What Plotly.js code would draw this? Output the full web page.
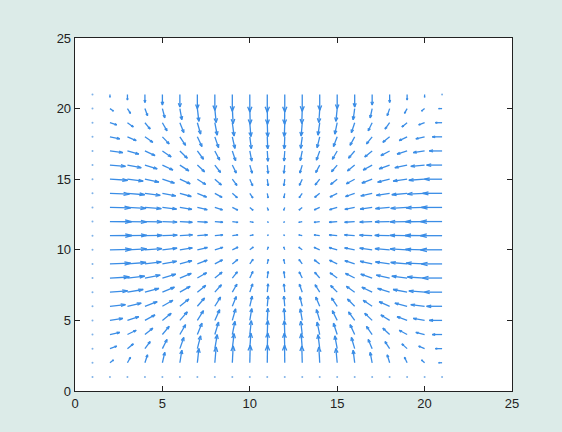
<!DOCTYPE html>
<html>
<head>
<meta charset="utf-8">
<script src="https://cdn.plot.ly/plotly-3.0.1.min.js"></script>
<style>
  html, body { margin: 0; padding: 0; background: #dcebe8; }
  #plot { width: 562px; height: 432px; }
</style>
</head>
<body>
<div id="plot"></div>
<script>
// Grid of arrow origins
const xGrid = [1,2,3,4,5,6,7,8,9,10,11,12,13,14,15,16,17,18,19,20,21];
const yGrid = [1,2,3,4,5,6,7,8,9,10,11,12,13,14,15,16,17,18,19,20,21];

// Horizontal components, one row per y (y = 1 .. 21), columns x = 1 .. 21
const U = [
  [0,0,0,0,0,0,0,0,0,0,0,0,0,0,0,0,0,0,0,0,0],
  [0,0.16,0.14,0.12,0.11,0.09,0.07,0.06,0.04,0.02,0.01,-0.01,-0.02,-0.04,-0.06,-0.07,-0.09,-0.11,-0.12,-0.14,-0.16],
  [0,0.31,0.27,0.24,0.21,0.18,0.15,0.11,0.08,0.05,0.02,-0.02,-0.05,-0.08,-0.11,-0.15,-0.18,-0.21,-0.24,-0.27,-0.31],
  [0,0.45,0.4,0.36,0.31,0.26,0.21,0.17,0.12,0.07,0.02,-0.02,-0.07,-0.12,-0.17,-0.21,-0.26,-0.31,-0.36,-0.4,-0.45],
  [0,0.59,0.52,0.46,0.4,0.34,0.28,0.22,0.15,0.09,0.03,-0.03,-0.09,-0.15,-0.22,-0.28,-0.34,-0.4,-0.46,-0.52,-0.59],
  [0,0.71,0.63,0.56,0.48,0.41,0.33,0.26,0.18,0.11,0.04,-0.04,-0.11,-0.18,-0.26,-0.33,-0.41,-0.48,-0.56,-0.63,-0.71],
  [0,0.81,0.72,0.64,0.55,0.47,0.38,0.3,0.21,0.13,0.04,-0.04,-0.13,-0.21,-0.3,-0.38,-0.47,-0.55,-0.64,-0.72,-0.81],
  [0,0.89,0.79,0.7,0.61,0.52,0.42,0.33,0.23,0.14,0.04,-0.04,-0.14,-0.23,-0.33,-0.42,-0.52,-0.61,-0.7,-0.79,-0.89],
  [0,0.95,0.85,0.75,0.65,0.55,0.45,0.35,0.25,0.15,0.05,-0.05,-0.15,-0.25,-0.35,-0.45,-0.55,-0.65,-0.75,-0.85,-0.95],
  [0,0.99,0.88,0.78,0.67,0.57,0.46,0.37,0.26,0.16,0.05,-0.05,-0.16,-0.26,-0.37,-0.46,-0.57,-0.67,-0.78,-0.88,-0.99],
  [0,1.0,0.89,0.79,0.68,0.58,0.47,0.37,0.26,0.16,0.05,-0.05,-0.16,-0.26,-0.37,-0.47,-0.58,-0.68,-0.79,-0.89,-1.0],
  [0,0.99,0.88,0.78,0.67,0.57,0.46,0.37,0.26,0.16,0.05,-0.05,-0.16,-0.26,-0.37,-0.46,-0.57,-0.67,-0.78,-0.88,-0.99],
  [0,0.95,0.85,0.75,0.65,0.55,0.45,0.35,0.25,0.15,0.05,-0.05,-0.15,-0.25,-0.35,-0.45,-0.55,-0.65,-0.75,-0.85,-0.95],
  [0,0.89,0.79,0.7,0.61,0.52,0.42,0.33,0.23,0.14,0.04,-0.04,-0.14,-0.23,-0.33,-0.42,-0.52,-0.61,-0.7,-0.79,-0.89],
  [0,0.81,0.72,0.64,0.55,0.47,0.38,0.3,0.21,0.13,0.04,-0.04,-0.13,-0.21,-0.3,-0.38,-0.47,-0.55,-0.64,-0.72,-0.81],
  [0,0.71,0.63,0.56,0.48,0.41,0.33,0.26,0.18,0.11,0.04,-0.04,-0.11,-0.18,-0.26,-0.33,-0.41,-0.48,-0.56,-0.63,-0.71],
  [0,0.59,0.52,0.46,0.4,0.34,0.28,0.22,0.15,0.09,0.03,-0.03,-0.09,-0.15,-0.22,-0.28,-0.34,-0.4,-0.46,-0.52,-0.59],
  [0,0.45,0.4,0.36,0.31,0.26,0.21,0.17,0.12,0.07,0.02,-0.02,-0.07,-0.12,-0.17,-0.21,-0.26,-0.31,-0.36,-0.4,-0.45],
  [0,0.31,0.27,0.24,0.21,0.18,0.15,0.11,0.08,0.05,0.02,-0.02,-0.05,-0.08,-0.11,-0.15,-0.18,-0.21,-0.24,-0.27,-0.31],
  [0,0.16,0.14,0.12,0.11,0.09,0.07,0.06,0.04,0.02,0.01,-0.01,-0.02,-0.04,-0.06,-0.07,-0.09,-0.11,-0.12,-0.14,-0.16],
  [0,0,0,0,0,0,0,0,0,0,0,0,0,0,0,0,0,0,0,0,0]
];

// Vertical components, same layout as U
const V = [
  [0,0,0,0,0,0,0,0,0,0,0,0,0,0,0,0,0,0,0,0,0],
  [0,0.16,0.31,0.45,0.59,0.71,0.81,0.89,0.95,0.99,1.0,0.99,0.95,0.89,0.81,0.71,0.59,0.45,0.31,0.16,0],
  [0,0.14,0.27,0.4,0.52,0.63,0.72,0.79,0.85,0.88,0.89,0.88,0.85,0.79,0.72,0.63,0.52,0.4,0.27,0.14,0],
  [0,0.12,0.24,0.36,0.46,0.56,0.64,0.7,0.75,0.78,0.79,0.78,0.75,0.7,0.64,0.56,0.46,0.36,0.24,0.12,0],
  [0,0.11,0.21,0.31,0.4,0.48,0.55,0.61,0.65,0.67,0.68,0.67,0.65,0.61,0.55,0.48,0.4,0.31,0.21,0.11,0],
  [0,0.09,0.18,0.26,0.34,0.41,0.47,0.52,0.55,0.57,0.58,0.57,0.55,0.52,0.47,0.41,0.34,0.26,0.18,0.09,0],
  [0,0.07,0.15,0.21,0.28,0.33,0.38,0.42,0.45,0.46,0.47,0.46,0.45,0.42,0.38,0.33,0.28,0.21,0.15,0.07,0],
  [0,0.06,0.11,0.17,0.22,0.26,0.3,0.33,0.35,0.37,0.37,0.37,0.35,0.33,0.3,0.26,0.22,0.17,0.11,0.06,0],
  [0,0.04,0.08,0.12,0.15,0.18,0.21,0.23,0.25,0.26,0.26,0.26,0.25,0.23,0.21,0.18,0.15,0.12,0.08,0.04,0],
  [0,0.02,0.05,0.07,0.09,0.11,0.13,0.14,0.15,0.16,0.16,0.16,0.15,0.14,0.13,0.11,0.09,0.07,0.05,0.02,0],
  [0,0.01,0.02,0.02,0.03,0.04,0.04,0.04,0.05,0.05,0.05,0.05,0.05,0.04,0.04,0.04,0.03,0.02,0.02,0.01,0],
  [0,-0.01,-0.02,-0.02,-0.03,-0.04,-0.04,-0.04,-0.05,-0.05,-0.05,-0.05,-0.05,-0.04,-0.04,-0.04,-0.03,-0.02,-0.02,-0.01,0],
  [0,-0.02,-0.05,-0.07,-0.09,-0.11,-0.13,-0.14,-0.15,-0.16,-0.16,-0.16,-0.15,-0.14,-0.13,-0.11,-0.09,-0.07,-0.05,-0.02,0],
  [0,-0.04,-0.08,-0.12,-0.15,-0.18,-0.21,-0.23,-0.25,-0.26,-0.26,-0.26,-0.25,-0.23,-0.21,-0.18,-0.15,-0.12,-0.08,-0.04,0],
  [0,-0.06,-0.11,-0.17,-0.22,-0.26,-0.3,-0.33,-0.35,-0.37,-0.37,-0.37,-0.35,-0.33,-0.3,-0.26,-0.22,-0.17,-0.11,-0.06,0],
  [0,-0.07,-0.15,-0.21,-0.28,-0.33,-0.38,-0.42,-0.45,-0.46,-0.47,-0.46,-0.45,-0.42,-0.38,-0.33,-0.28,-0.21,-0.15,-0.07,0],
  [0,-0.09,-0.18,-0.26,-0.34,-0.41,-0.47,-0.52,-0.55,-0.57,-0.58,-0.57,-0.55,-0.52,-0.47,-0.41,-0.34,-0.26,-0.18,-0.09,0],
  [0,-0.11,-0.21,-0.31,-0.4,-0.48,-0.55,-0.61,-0.65,-0.67,-0.68,-0.67,-0.65,-0.61,-0.55,-0.48,-0.4,-0.31,-0.21,-0.11,0],
  [0,-0.12,-0.24,-0.36,-0.46,-0.56,-0.64,-0.7,-0.75,-0.78,-0.79,-0.78,-0.75,-0.7,-0.64,-0.56,-0.46,-0.36,-0.24,-0.12,0],
  [0,-0.14,-0.27,-0.4,-0.52,-0.63,-0.72,-0.79,-0.85,-0.88,-0.89,-0.88,-0.85,-0.79,-0.72,-0.63,-0.52,-0.4,-0.27,-0.14,0],
  [0,-0.16,-0.31,-0.45,-0.59,-0.71,-0.81,-0.89,-0.95,-0.99,-1.0,-0.99,-0.95,-0.89,-0.81,-0.71,-0.59,-0.45,-0.31,-0.16,0]
];

const tickVals = [0, 5, 10, 15, 20, 25];
const tickText = ['0', '5', '10', '15', '20', '25'];

// Quiver drawing: shafts and two-stroke arrowheads as broken polylines.
// SCALE stretches every arrow by the same factor, as quiver's scale argument does.
const SCALE = 1.25;
const ALPHA = 0.3, BETA = 0.33;
const lx = [], ly = [];
const dx = [], dy = [];
yGrid.forEach((y, j) => {
  xGrid.forEach((x, i) => {
    const u = U[j][i] * SCALE, v = V[j][i] * SCALE;
    if (u === 0 && v === 0) { dx.push(x); dy.push(y); return; }
    const tx = x + u, ty = y + v;
    lx.push(x, tx, null); ly.push(y, ty, null);
    lx.push(tx - ALPHA * (u + BETA * v), tx, tx - ALPHA * (u - BETA * v), null);
    ly.push(ty - ALPHA * (v - BETA * u), ty, ty - ALPHA * (v + BETA * u), null);
  });
});

const arrowColor = '#3a8de6';
const traces = [
  { type: 'scatter', mode: 'lines', x: lx, y: ly, line: { color: arrowColor, width: 1.3 }, hoverinfo: 'skip', showlegend: false },
  { type: 'scatter', mode: 'markers', x: dx, y: dy, marker: { color: '#7fb2e8', size: 2 }, hoverinfo: 'skip', showlegend: false }
];

const axisCommon = {
  range: [0, 25],
  tickvals: tickVals,
  ticktext: tickText,
  ticks: 'inside',
  ticklen: 5,
  tickcolor: '#222',
  showline: true,
  linecolor: '#222',
  linewidth: 1.3,
  mirror: 'ticks',
  showgrid: false,
  zeroline: false,
  tickfont: { family: 'Liberation Sans, Arial, sans-serif', size: 13, color: '#222' }
};

const layout = {
  width: 562,
  height: 432,
  margin: { l: 75, r: 50, t: 38, b: 41 },
  paper_bgcolor: '#dcebe8',
  plot_bgcolor: '#ffffff',
  xaxis: Object.assign({}, axisCommon),
  yaxis: Object.assign({}, axisCommon),
  showlegend: false
};

Plotly.newPlot('plot', traces, layout, { staticPlot: true, displayModeBar: false });
</script>
</body>
</html>
